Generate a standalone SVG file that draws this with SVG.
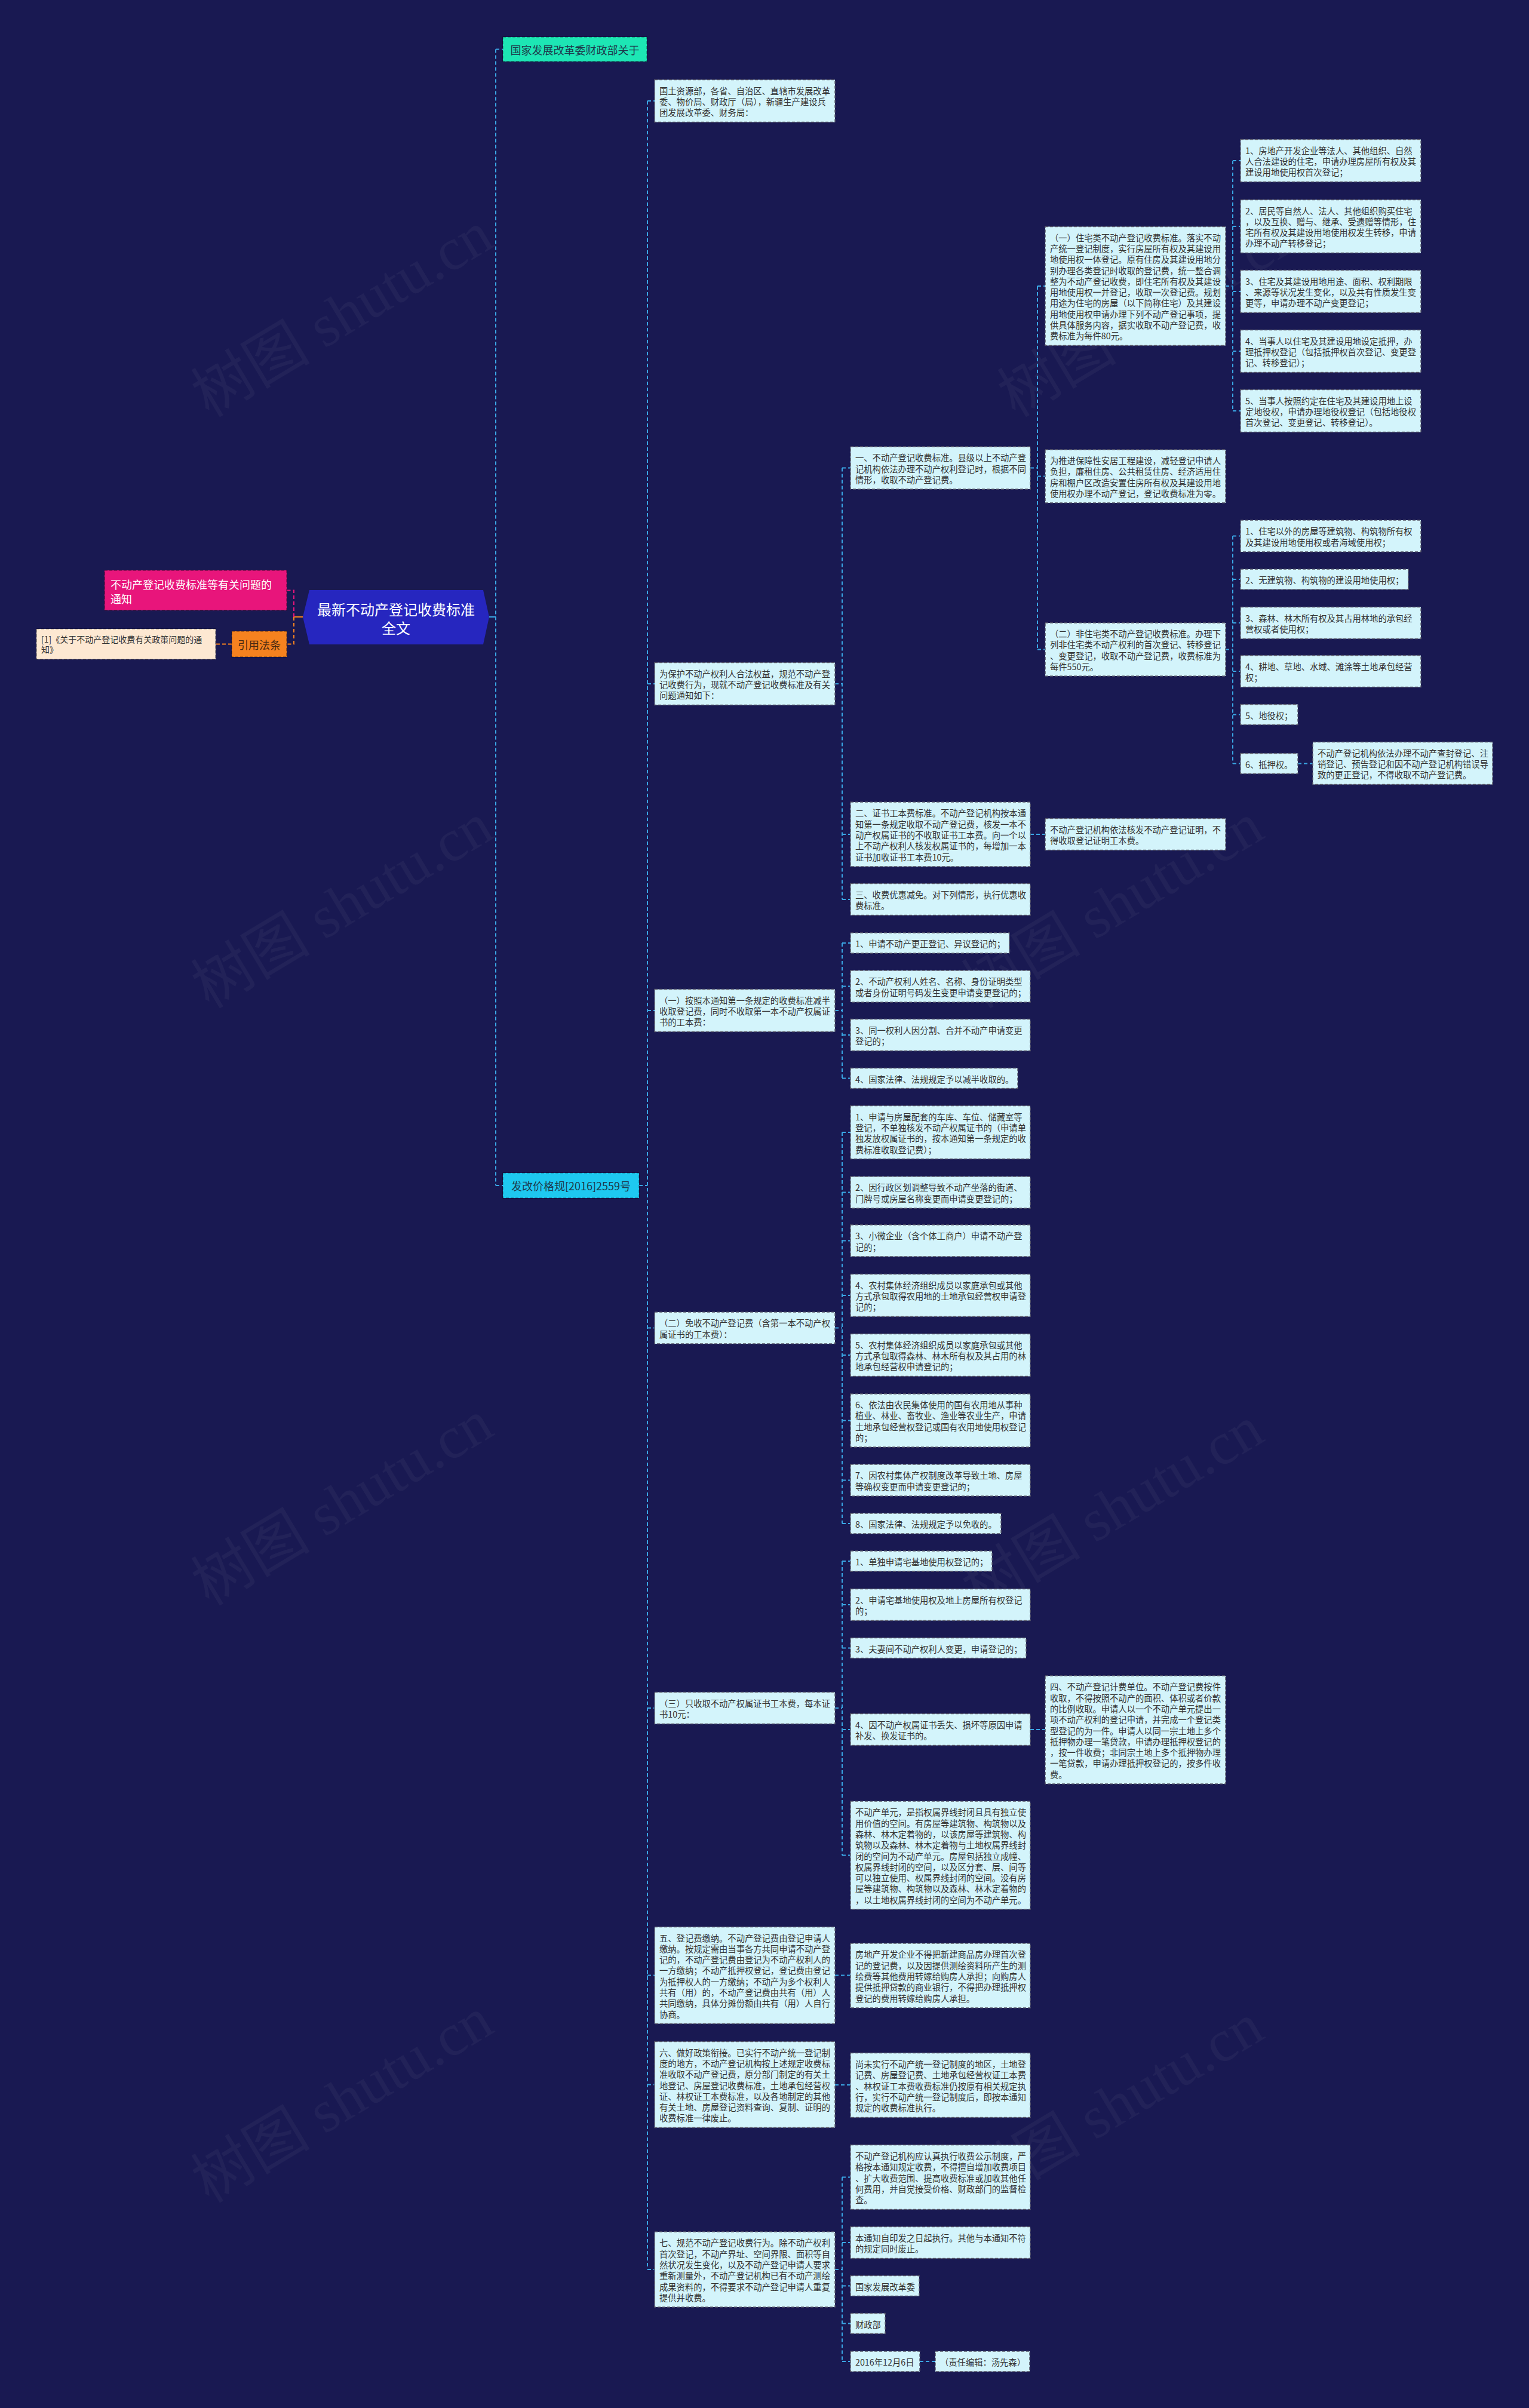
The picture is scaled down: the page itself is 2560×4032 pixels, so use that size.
<svg xmlns="http://www.w3.org/2000/svg" width="2560" height="4032" viewBox="0 0 2560 4032">
<style>
.bg{fill:#191952}
.box{fill:#d3f4fb;stroke:#5a5a6a;stroke-width:1.5;stroke-dasharray:5 3}
.t{font-family:"Noto Sans CJK SC","Noto Sans",sans-serif;font-size:14.3px;fill:#333333;dominant-baseline:central}
.link{fill:none;stroke:#3aa6e4;stroke-width:2;stroke-dasharray:6 4}
.solid{fill:none;stroke:#3aa6e4;stroke-width:2}
.wm{font-family:"Liberation Serif","Noto Sans CJK SC",serif;font-size:100px;fill:#ffffff;fill-opacity:0.04}
.l1t{font-family:"Noto Sans CJK SC","Noto Sans",sans-serif;font-size:18px;fill:#1d3a4c;dominant-baseline:central;text-anchor:middle}
</style>
<rect class="bg" x="0" y="0" width="2560" height="4032"/>
<g id="watermarks">
<text class="wm" transform="translate(350 700) rotate(-31)">树图 shutu.cn</text>
<text class="wm" transform="translate(350 1690) rotate(-31)">树图 shutu.cn</text>
<text class="wm" transform="translate(350 2690) rotate(-31)">树图 shutu.cn</text>
<text class="wm" transform="translate(350 3690) rotate(-31)">树图 shutu.cn</text>
<text class="wm" transform="translate(1700 700) rotate(-31)">树图 shutu.cn</text>
<text class="wm" transform="translate(1640 1690) rotate(-31)">树图 shutu.cn</text>
<text class="wm" transform="translate(1640 2700) rotate(-31)">树图 shutu.cn</text>
<text class="wm" transform="translate(1640 3700) rotate(-31)">树图 shutu.cn</text>
</g>
<g id="connectors">
<path d="M507 1033 H492" fill="none" stroke="#f6821f" stroke-width="2"/>
<path d="M492 1033 V988.5 H480" fill="none" stroke="#e8157b" stroke-width="2" stroke-dasharray="6 4"/>
<path d="M492 1033 V1078.5 H480 M388 1078.5 H361" fill="none" stroke="#f6821f" stroke-width="2" stroke-dasharray="6 4"/>
<path class="solid" d="M819 1033 H830"/>
<path class="link" d="M830 82.5 V1985 M830 82.5 H842 M830 1985 H842"/>
<path class="link" d="M1070 1985 H1084 M1084 169 V3800 M1084 169 H1096 M1084 1145 H1096 M1084 1692 H1096 M1084 2223.5 H1096 M1084 2860 H1096 M1084 3307.5 H1096 M1084 3490.5 H1096 M1084 3800 H1096"/>
<path class="link" d="M1398 1145 H1410 M1410 783.5 V1506 M1410 783.5 H1424 M1410 1397 H1424 M1410 1506 H1424"/>
<path class="link" d="M1398 1692 H1410 M1410 1579 V1805.5 M1410 1579 H1424 M1410 1651.5 H1424 M1410 1733 H1424 M1410 1805.5 H1424"/>
<path class="link" d="M1398 2223.5 H1410 M1410 1896 V2551 M1410 1896 H1424 M1410 1996.5 H1424 M1410 2077.5 H1424 M1410 2169 H1424 M1410 2269 H1424 M1410 2378.5 H1424 M1410 2478.5 H1424 M1410 2551 H1424"/>
<path class="link" d="M1398 2860 H1410 M1410 2614 V3106.5 M1410 2614 H1424 M1410 2687 H1424 M1410 2759.5 H1424 M1410 2896 H1424 M1410 3106.5 H1424"/>
<path class="link" d="M1398 3307.5 H1424 M1398 3491 H1424"/>
<path class="link" d="M1398 3800 H1410 M1410 3645.5 V3954 M1410 3645.5 H1424 M1410 3755 H1424 M1410 3827.5 H1424 M1410 3890.5 H1424 M1410 3954 H1424 M1540 3954 H1566"/>
<path class="link" d="M1725 783.5 H1737 M1737 479 V1087.5 M1737 479 H1750 M1737 797.5 H1750 M1737 1087.5 H1750 M1725 1397 H1750 M1725 2896 H1750"/>
<path class="link" d="M2052 479 H2064 M2064 269 V688 M2064 269 H2077 M2064 379 H2077 M2064 488 H2077 M2064 588 H2077 M2064 688 H2077"/>
<path class="link" d="M2052 1087.5 H2064 M2064 897.5 V1278.5 M2064 897.5 H2077 M2064 970 H2077 M2064 1043 H2077 M2064 1124 H2077 M2064 1196.5 H2077 M2064 1278.5 H2077 M2173 1278.5 H2198"/>
</g>
<g id="root">
<polygon points="518,988 809,988 819,1033 809,1079 518,1079 507,1033" fill="#2626bf"/>
<text font-family="Noto Sans CJK SC, sans-serif" font-size="24" fill="#ffffff" text-anchor="middle" dominant-baseline="central"><tspan x="663" y="1019">最新不动产登记收费标准</tspan><tspan x="663" y="1050">全文</tspan></text>
</g>
<g id="n_pink">
<rect x="175" y="955" width="305" height="67" fill="#e8157b" stroke="#000" stroke-opacity="0.35" stroke-width="1.5" stroke-dasharray="5 3"/>
<text font-family="Noto Sans CJK SC, sans-serif" font-size="18" fill="#ffffff" dominant-baseline="central"><tspan x="185" y="978">不动产登记收费标准等有关问题的</tspan><tspan x="185" y="1002">通知</tspan></text>
</g>
<g id="n_orange">
<rect x="388" y="1057" width="92" height="43" fill="#f6821f" stroke="#000" stroke-opacity="0.35" stroke-width="1.5" stroke-dasharray="5 3"/>
<text x="434" y="1078.5" font-family="Noto Sans CJK SC, sans-serif" font-size="18" fill="#4a2a12" text-anchor="middle" dominant-baseline="central">引用法条</text>
</g>
<g id="n_beige">
<rect x="61" y="1053" width="300" height="51" fill="#fde8d2" stroke="#000" stroke-opacity="0.35" stroke-width="1.5" stroke-dasharray="5 3"/>
<text font-family="Noto Sans CJK SC, sans-serif" font-size="14" fill="#333333" dominant-baseline="central"><tspan x="69" y="1070">[1]《关于不动产登记收费有关政策问题的通</tspan><tspan x="69" y="1087">知》</tspan></text>
</g>
<g id="n_l1a">
<rect x="842" y="62" width="241" height="41" fill="#1de6b4" stroke="#000" stroke-opacity="0.35" stroke-width="1.5" stroke-dasharray="5 3"/>
<text class="l1t" x="962.5" y="82.5">国家发展改革委财政部关于</text>
</g>
<g id="n_l1b">
<rect x="842" y="1964" width="228" height="42" fill="#1ec8f0" stroke="#000" stroke-opacity="0.35" stroke-width="1.5" stroke-dasharray="5 3"/>
<text class="l1t" x="956" y="1985">发改价格规[2016]2559号</text>
</g>
<g id="n_guotu"><rect class="box" x="1096" y="133.5" width="302" height="71"/><text class="t"><tspan x="1104" y="150.7">国土资源部，各省、自治区、直辖市发展改革</tspan><tspan x="1104" y="169">委、物价局、财政厅（局），新疆生产建设兵</tspan><tspan x="1104" y="187.3">团发展改革委、财务局：</tspan></text></g>
<g id="n_baohu"><rect class="box" x="1096" y="1109.5" width="302" height="71"/><text class="t"><tspan x="1104" y="1126.7">为保护不动产权利人合法权益，规范不动产登</tspan><tspan x="1104" y="1145">记收费行为，现就不动产登记收费标准及有关</tspan><tspan x="1104" y="1163.3">问题通知如下：</tspan></text></g>
<g id="n_yianzhao"><rect class="box" x="1096" y="1656.5" width="302" height="71"/><text class="t"><tspan x="1104" y="1673.7">（一）按照本通知第一条规定的收费标准减半</tspan><tspan x="1104" y="1692">收取登记费，同时不收取第一本不动产权属证</tspan><tspan x="1104" y="1710.3">书的工本费：</tspan></text></g>
<g id="n_ermianshou"><rect class="box" x="1096" y="2197" width="302" height="53"/><text class="t"><tspan x="1104" y="2214.4">（二）免收不动产登记费（含第一本不动产权</tspan><tspan x="1104" y="2232.7">属证书的工本费）：</tspan></text></g>
<g id="n_san"><rect class="box" x="1096" y="2833.5" width="302" height="53"/><text class="t"><tspan x="1104" y="2850.9">（三）只收取不动产权属证书工本费，每本证</tspan><tspan x="1104" y="2869.2">书10元：</tspan></text></g>
<g id="n_wu"><rect class="box" x="1096" y="3226.5" width="302" height="162"/><text class="t"><tspan x="1104" y="3243.5">五、登记费缴纳。不动产登记费由登记申请人</tspan><tspan x="1104" y="3261.8">缴纳。按规定需由当事各方共同申请不动产登</tspan><tspan x="1104" y="3280.1">记的，不动产登记费由登记为不动产权利人的</tspan><tspan x="1104" y="3298.4">一方缴纳；不动产抵押权登记，登记费由登记</tspan><tspan x="1104" y="3316.7">为抵押权人的一方缴纳；不动产为多个权利人</tspan><tspan x="1104" y="3335">共有（用）的，不动产登记费由共有（用）人</tspan><tspan x="1104" y="3353.3">共同缴纳，具体分摊份额由共有（用）人自行</tspan><tspan x="1104" y="3371.6">协商。</tspan></text></g>
<g id="n_liu"><rect class="box" x="1096" y="3418.5" width="302" height="144"/><text class="t"><tspan x="1104" y="3435.6">六、做好政策衔接。已实行不动产统一登记制</tspan><tspan x="1104" y="3453.9">度的地方，不动产登记机构按上述规定收费标</tspan><tspan x="1104" y="3472.2">准收取不动产登记费，原分部门制定的有关土</tspan><tspan x="1104" y="3490.5">地登记、房屋登记收费标准，土地承包经营权</tspan><tspan x="1104" y="3508.8">证、林权证工本费标准，以及各地制定的其他</tspan><tspan x="1104" y="3527.1">有关土地、房屋登记资料查询、复制、证明的</tspan><tspan x="1104" y="3545.4">收费标准一律废止。</tspan></text></g>
<g id="n_qi"><rect class="box" x="1096" y="3737" width="302" height="126"/><text class="t"><tspan x="1104" y="3754.3">七、规范不动产登记收费行为。除不动产权利</tspan><tspan x="1104" y="3772.6">首次登记，不动产界址、空间界限、面积等自</tspan><tspan x="1104" y="3790.9">然状况发生变化，以及不动产登记申请人要求</tspan><tspan x="1104" y="3809.2">重新测量外，不动产登记机构已有不动产测绘</tspan><tspan x="1104" y="3827.5">成果资料的，不得要求不动产登记申请人重复</tspan><tspan x="1104" y="3845.8">提供并收费。</tspan></text></g>
<g id="n_cyi"><rect class="box" x="1424" y="748" width="301" height="71"/><text class="t"><tspan x="1432" y="765.2">一、不动产登记收费标准。县级以上不动产登</tspan><tspan x="1432" y="783.5">记机构依法办理不动产权利登记时，根据不同</tspan><tspan x="1432" y="801.8">情形，收取不动产登记费。</tspan></text></g>
<g id="n_cer"><rect class="box" x="1424" y="1343" width="301" height="108"/><text class="t"><tspan x="1432" y="1360.4">二、证书工本费标准。不动产登记机构按本通</tspan><tspan x="1432" y="1378.7">知第一条规定收取不动产登记费，核发一本不</tspan><tspan x="1432" y="1397">动产权属证书的不收取证书工本费。向一个以</tspan><tspan x="1432" y="1415.3">上不动产权利人核发权属证书的，每增加一本</tspan><tspan x="1432" y="1433.6">证书加收证书工本费10元。</tspan></text></g>
<g id="n_csan"><rect class="box" x="1424" y="1479.5" width="301" height="53"/><text class="t"><tspan x="1432" y="1496.9">三、收费优惠减免。对下列情形，执行优惠收</tspan><tspan x="1432" y="1515.2">费标准。</tspan></text></g>
<g id="n_a1"><rect class="box" x="1424" y="1562" width="266" height="34"/><text class="t"><tspan x="1432" y="1579">1、申请不动产更正登记、异议登记的；</tspan></text></g>
<g id="n_a2"><rect class="box" x="1424" y="1625" width="301" height="53"/><text class="t"><tspan x="1432" y="1642.4">2、不动产权利人姓名、名称、身份证明类型</tspan><tspan x="1432" y="1660.7">或者身份证明号码发生变更申请变更登记的；</tspan></text></g>
<g id="n_a3"><rect class="box" x="1424" y="1706.5" width="301" height="53"/><text class="t"><tspan x="1432" y="1723.9">3、同一权利人因分割、合并不动产申请变更</tspan><tspan x="1432" y="1742.2">登记的；</tspan></text></g>
<g id="n_a4"><rect class="box" x="1424" y="1788.5" width="280" height="34"/><text class="t"><tspan x="1432" y="1805.5">4、国家法律、法规规定予以减半收取的。</tspan></text></g>
<g id="n_b1"><rect class="box" x="1424" y="1851.5" width="301" height="89"/><text class="t"><tspan x="1432" y="1868.6">1、申请与房屋配套的车库、车位、储藏室等</tspan><tspan x="1432" y="1886.9">登记，不单独核发不动产权属证书的（申请单</tspan><tspan x="1432" y="1905.2">独发放权属证书的，按本通知第一条规定的收</tspan><tspan x="1432" y="1923.5">费标准收取登记费）；</tspan></text></g>
<g id="n_b2"><rect class="box" x="1424" y="1970" width="301" height="53"/><text class="t"><tspan x="1432" y="1987.4">2、因行政区划调整导致不动产坐落的街道、</tspan><tspan x="1432" y="2005.7">门牌号或房屋名称变更而申请变更登记的；</tspan></text></g>
<g id="n_b3"><rect class="box" x="1424" y="2051" width="301" height="53"/><text class="t"><tspan x="1432" y="2068.4">3、小微企业（含个体工商户）申请不动产登</tspan><tspan x="1432" y="2086.7">记的；</tspan></text></g>
<g id="n_b4"><rect class="box" x="1424" y="2133.5" width="301" height="71"/><text class="t"><tspan x="1432" y="2150.7">4、农村集体经济组织成员以家庭承包或其他</tspan><tspan x="1432" y="2169">方式承包取得农用地的土地承包经营权申请登</tspan><tspan x="1432" y="2187.3">记的；</tspan></text></g>
<g id="n_b5"><rect class="box" x="1424" y="2233.5" width="301" height="71"/><text class="t"><tspan x="1432" y="2250.7">5、农村集体经济组织成员以家庭承包或其他</tspan><tspan x="1432" y="2269">方式承包取得森林、林木所有权及其占用的林</tspan><tspan x="1432" y="2287.3">地承包经营权申请登记的；</tspan></text></g>
<g id="n_b6"><rect class="box" x="1424" y="2334" width="301" height="89"/><text class="t"><tspan x="1432" y="2351.1">6、依法由农民集体使用的国有农用地从事种</tspan><tspan x="1432" y="2369.4">植业、林业、畜牧业、渔业等农业生产，申请</tspan><tspan x="1432" y="2387.7">土地承包经营权登记或国有农用地使用权登记</tspan><tspan x="1432" y="2406">的；</tspan></text></g>
<g id="n_b7"><rect class="box" x="1424" y="2452" width="301" height="53"/><text class="t"><tspan x="1432" y="2469.4">7、因农村集体产权制度改革导致土地、房屋</tspan><tspan x="1432" y="2487.7">等确权变更而申请变更登记的；</tspan></text></g>
<g id="n_b8"><rect class="box" x="1424" y="2534" width="252" height="34"/><text class="t"><tspan x="1432" y="2551">8、国家法律、法规规定予以免收的。</tspan></text></g>
<g id="n_d1"><rect class="box" x="1424" y="2597" width="237" height="34"/><text class="t"><tspan x="1432" y="2614">1、单独申请宅基地使用权登记的；</tspan></text></g>
<g id="n_d2"><rect class="box" x="1424" y="2660.5" width="301" height="53"/><text class="t"><tspan x="1432" y="2677.9">2、申请宅基地使用权及地上房屋所有权登记</tspan><tspan x="1432" y="2696.2">的；</tspan></text></g>
<g id="n_d3"><rect class="box" x="1424" y="2742.5" width="294" height="34"/><text class="t"><tspan x="1432" y="2759.5">3、夫妻间不动产权利人变更，申请登记的；</tspan></text></g>
<g id="n_d4"><rect class="box" x="1424" y="2869.5" width="301" height="53"/><text class="t"><tspan x="1432" y="2886.9">4、因不动产权属证书丢失、损坏等原因申请</tspan><tspan x="1432" y="2905.2">补发、换发证书的。</tspan></text></g>
<g id="n_d5"><rect class="box" x="1424" y="3016" width="301" height="181"/><text class="t"><tspan x="1432" y="3033.3">不动产单元，是指权属界线封闭且具有独立使</tspan><tspan x="1432" y="3051.6">用价值的空间。有房屋等建筑物、构筑物以及</tspan><tspan x="1432" y="3069.9">森林、林木定着物的，以该房屋等建筑物、构</tspan><tspan x="1432" y="3088.2">筑物以及森林、林木定着物与土地权属界线封</tspan><tspan x="1432" y="3106.5">闭的空间为不动产单元。房屋包括独立成幢、</tspan><tspan x="1432" y="3124.8">权属界线封闭的空间，以及区分套、层、间等</tspan><tspan x="1432" y="3143.1">可以独立使用、权属界线封闭的空间。没有房</tspan><tspan x="1432" y="3161.4">屋等建筑物、构筑物以及森林、林木定着物的</tspan><tspan x="1432" y="3179.7">，以土地权属界线封闭的空间为不动产单元。</tspan></text></g>
<g id="n_e1"><rect class="box" x="1424" y="3254" width="301" height="108"/><text class="t"><tspan x="1432" y="3271.4">房地产开发企业不得把新建商品房办理首次登</tspan><tspan x="1432" y="3289.7">记的登记费，以及因提供测绘资料所产生的测</tspan><tspan x="1432" y="3308">绘费等其他费用转嫁给购房人承担；向购房人</tspan><tspan x="1432" y="3326.3">提供抵押贷款的商业银行，不得把办理抵押权</tspan><tspan x="1432" y="3344.6">登记的费用转嫁给购房人承担。</tspan></text></g>
<g id="n_f1"><rect class="box" x="1424" y="3437.5" width="301" height="108"/><text class="t"><tspan x="1432" y="3454.9">尚未实行不动产统一登记制度的地区，土地登</tspan><tspan x="1432" y="3473.2">记费、房屋登记费、土地承包经营权证工本费</tspan><tspan x="1432" y="3491.5">、林权证工本费收费标准仍按原有相关规定执</tspan><tspan x="1432" y="3509.8">行，实行不动产统一登记制度后，即按本通知</tspan><tspan x="1432" y="3528.1">规定的收费标准执行。</tspan></text></g>
<g id="n_g1"><rect class="box" x="1424" y="3591.5" width="301" height="108"/><text class="t"><tspan x="1432" y="3608.9">不动产登记机构应认真执行收费公示制度，严</tspan><tspan x="1432" y="3627.2">格按本通知规定收费，不得擅自增加收费项目</tspan><tspan x="1432" y="3645.5">、扩大收费范围、提高收费标准或加收其他任</tspan><tspan x="1432" y="3663.8">何费用，并自觉接受价格、财政部门的监督检</tspan><tspan x="1432" y="3682.1">查。</tspan></text></g>
<g id="n_g2"><rect class="box" x="1424" y="3728.5" width="301" height="53"/><text class="t"><tspan x="1432" y="3745.9">本通知自印发之日起执行。其他与本通知不符</tspan><tspan x="1432" y="3764.2">的规定同时废止。</tspan></text></g>
<g id="n_g3"><rect class="box" x="1424" y="3810.5" width="115" height="34"/><text class="t"><tspan x="1432" y="3827.5">国家发展改革委</tspan></text></g>
<g id="n_g4"><rect class="box" x="1424" y="3873.5" width="58" height="34"/><text class="t"><tspan x="1432" y="3890.5">财政部</tspan></text></g>
<g id="n_g5"><rect class="box" x="1424" y="3937" width="116" height="34"/><text class="t"><tspan x="1432" y="3954">2016年12月6日</tspan></text></g>
<g id="n_g6"><rect class="box" x="1566" y="3937" width="158" height="34"/><text class="t"><tspan x="1574" y="3954">（责任编辑：汤先森）</tspan></text></g>
<g id="n_zhuzhai"><rect class="box" x="1750" y="379.5" width="302" height="199"/><text class="t"><tspan x="1758" y="396.65">（一）住宅类不动产登记收费标准。落实不动</tspan><tspan x="1758" y="414.95">产统一登记制度，实行房屋所有权及其建设用</tspan><tspan x="1758" y="433.25">地使用权一体登记。原有住房及其建设用地分</tspan><tspan x="1758" y="451.55">别办理各类登记时收取的登记费，统一整合调</tspan><tspan x="1758" y="469.85">整为不动产登记收费，即住宅所有权及其建设</tspan><tspan x="1758" y="488.15">用地使用权一并登记，收取一次登记费。规划</tspan><tspan x="1758" y="506.45">用途为住宅的房屋（以下简称住宅）及其建设</tspan><tspan x="1758" y="524.75">用地使用权申请办理下列不动产登记事项，提</tspan><tspan x="1758" y="543.05">供具体服务内容，据实收取不动产登记费，收</tspan><tspan x="1758" y="561.35">费标准为每件80元。</tspan></text></g>
<g id="n_tuijin"><rect class="box" x="1750" y="753" width="302" height="89"/><text class="t"><tspan x="1758" y="770.05">为推进保障性安居工程建设，减轻登记申请人</tspan><tspan x="1758" y="788.35">负担，廉租住房、公共租赁住房、经济适用住</tspan><tspan x="1758" y="806.65">房和棚户区改造安置住房所有权及其建设用地</tspan><tspan x="1758" y="824.95">使用权办理不动产登记，登记收费标准为零。</tspan></text></g>
<g id="n_feizhuzhai"><rect class="box" x="1750" y="1043" width="302" height="89"/><text class="t"><tspan x="1758" y="1060.05">（二）非住宅类不动产登记收费标准。办理下</tspan><tspan x="1758" y="1078.35">列非住宅类不动产权利的首次登记、转移登记</tspan><tspan x="1758" y="1096.65">、变更登记，收取不动产登记费，收费标准为</tspan><tspan x="1758" y="1114.95">每件550元。</tspan></text></g>
<g id="n_yifa"><rect class="box" x="1750" y="1370.5" width="302" height="53"/><text class="t"><tspan x="1758" y="1387.85">不动产登记机构依法核发不动产登记证明，不</tspan><tspan x="1758" y="1406.15">得收取登记证明工本费。</tspan></text></g>
<g id="n_si"><rect class="box" x="1750" y="2806" width="302" height="181"/><text class="t"><tspan x="1758" y="2823.3">四、不动产登记计费单位。不动产登记费按件</tspan><tspan x="1758" y="2841.6">收取，不得按照不动产的面积、体积或者价款</tspan><tspan x="1758" y="2859.9">的比例收取。申请人以一个不动产单元提出一</tspan><tspan x="1758" y="2878.2">项不动产权利的登记申请，并完成一个登记类</tspan><tspan x="1758" y="2896.5">型登记的为一件。申请人以同一宗土地上多个</tspan><tspan x="1758" y="2914.8">抵押物办理一笔贷款，申请办理抵押权登记的</tspan><tspan x="1758" y="2933.1">，按一件收费；非同宗土地上多个抵押物办理</tspan><tspan x="1758" y="2951.4">一笔贷款，申请办理抵押权登记的，按多件收</tspan><tspan x="1758" y="2969.7">费。</tspan></text></g>
<g id="n_e1_1"><rect class="box" x="2077" y="233.5" width="302" height="71"/><text class="t"><tspan x="2085" y="250.7">1、房地产开发企业等法人、其他组织、自然</tspan><tspan x="2085" y="269">人合法建设的住宅，申请办理房屋所有权及其</tspan><tspan x="2085" y="287.3">建设用地使用权首次登记；</tspan></text></g>
<g id="n_e1_2"><rect class="box" x="2077" y="334.5" width="302" height="89"/><text class="t"><tspan x="2085" y="351.55">2、居民等自然人、法人、其他组织购买住宅</tspan><tspan x="2085" y="369.85">，以及互换、赠与、继承、受遗赠等情形，住</tspan><tspan x="2085" y="388.15">宅所有权及其建设用地使用权发生转移，申请</tspan><tspan x="2085" y="406.45">办理不动产转移登记；</tspan></text></g>
<g id="n_e1_3"><rect class="box" x="2077" y="452.5" width="302" height="71"/><text class="t"><tspan x="2085" y="469.7">3、住宅及其建设用地用途、面积、权利期限</tspan><tspan x="2085" y="488">、来源等状况发生变化，以及共有性质发生变</tspan><tspan x="2085" y="506.3">更等，申请办理不动产变更登记；</tspan></text></g>
<g id="n_e1_4"><rect class="box" x="2077" y="552.5" width="302" height="71"/><text class="t"><tspan x="2085" y="569.7">4、当事人以住宅及其建设用地设定抵押，办</tspan><tspan x="2085" y="588">理抵押权登记（包括抵押权首次登记、变更登</tspan><tspan x="2085" y="606.3">记、转移登记）；</tspan></text></g>
<g id="n_e1_5"><rect class="box" x="2077" y="652.5" width="302" height="71"/><text class="t"><tspan x="2085" y="669.7">5、当事人按照约定在住宅及其建设用地上设</tspan><tspan x="2085" y="688">定地役权，申请办理地役权登记（包括地役权</tspan><tspan x="2085" y="706.3">首次登记、变更登记、转移登记）。</tspan></text></g>
<g id="n_f_1"><rect class="box" x="2077" y="871" width="302" height="53"/><text class="t"><tspan x="2085" y="888.35">1、住宅以外的房屋等建筑物、构筑物所有权</tspan><tspan x="2085" y="906.65">及其建设用地使用权或者海域使用权；</tspan></text></g>
<g id="n_f_2"><rect class="box" x="2077" y="953" width="281" height="34"/><text class="t"><tspan x="2085" y="970">2、无建筑物、构筑物的建设用地使用权；</tspan></text></g>
<g id="n_f_3"><rect class="box" x="2077" y="1016.5" width="302" height="53"/><text class="t"><tspan x="2085" y="1033.85">3、森林、林木所有权及其占用林地的承包经</tspan><tspan x="2085" y="1052.15">营权或者使用权；</tspan></text></g>
<g id="n_f_4"><rect class="box" x="2077" y="1097.5" width="302" height="53"/><text class="t"><tspan x="2085" y="1114.85">4、耕地、草地、水域、滩涂等土地承包经营</tspan><tspan x="2085" y="1133.15">权；</tspan></text></g>
<g id="n_f_5"><rect class="box" x="2077" y="1179.5" width="96" height="34"/><text class="t"><tspan x="2085" y="1196.5">5、地役权；</tspan></text></g>
<g id="n_f_6"><rect class="box" x="2077" y="1261.5" width="96" height="34"/><text class="t"><tspan x="2085" y="1278.5">6、抵押权。</tspan></text></g>
<g id="n_chafeng"><rect class="box" x="2198" y="1242.5" width="301" height="71"/><text class="t"><tspan x="2206" y="1259.7">不动产登记机构依法办理不动产查封登记、注</tspan><tspan x="2206" y="1278">销登记、预告登记和因不动产登记机构错误导</tspan><tspan x="2206" y="1296.3">致的更正登记，不得收取不动产登记费。</tspan></text></g>
</svg>
